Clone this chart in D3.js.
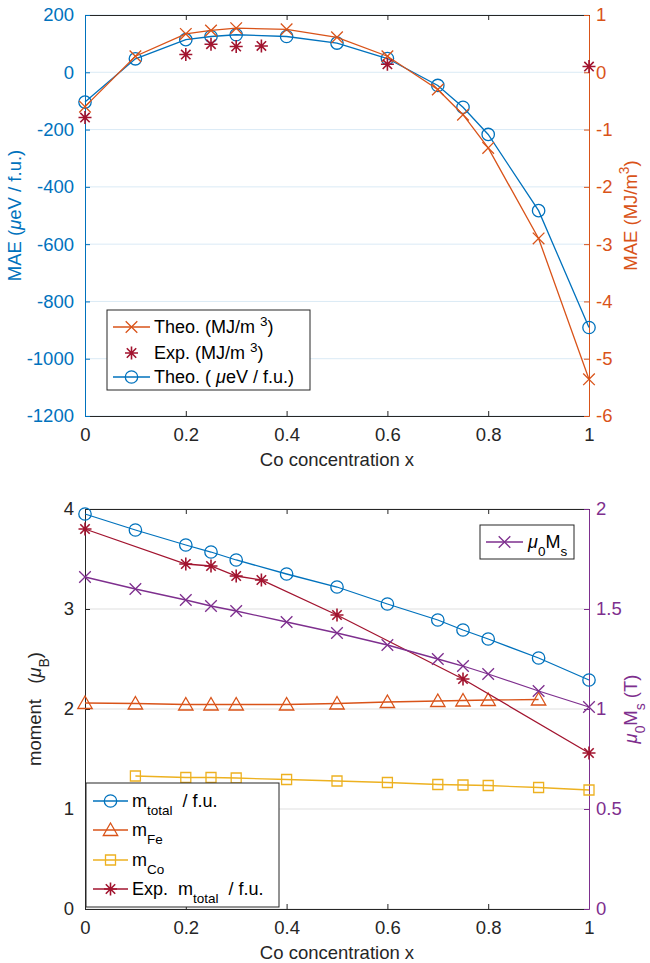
<!DOCTYPE html>
<html>
<head>
<meta charset="utf-8">
<script src="https://cdn.jsdelivr.net/npm/d3@7"></script>
<style>
  body { margin: 0; background: #fff; }
  svg text { font-family: "Liberation Sans", Arial, Helvetica, sans-serif; white-space: pre; }
</style>
</head>
<body>
<svg id="chart" width="650" height="963"></svg>
<script>
// ---- data: top panel (MAE) ----
const xTheo = [0, 0.1, 0.2, 0.25, 0.3, 0.4, 0.5, 0.6, 0.7, 0.75, 0.8, 0.9, 1];
const maeTheoUeV = [-104, 47, 114, 125, 131, 125, 102, 48, -46, -122, -217, -483, -891];
const maeTheoMJ = [-0.60, 0.28, 0.67, 0.73, 0.77, 0.75, 0.61, 0.28, -0.30, -0.74, -1.32, -2.90, -5.36];
const xExpMae = [0, 0.2, 0.25, 0.3, 0.35, 0.6, 1];
const maeExpMJ = [-0.79, 0.31, 0.49, 0.45, 0.46, 0.14, 0.10];

// ---- data: bottom panel (moments) ----
const mTotal = [3.95, 3.79, 3.64, 3.57, 3.49, 3.35, 3.22, 3.05, 2.89, 2.79, 2.70, 2.51, 2.29];
const xFe = [0, 0.1, 0.2, 0.25, 0.3, 0.4, 0.5, 0.6, 0.7, 0.75, 0.8, 0.9];
const mFe = [2.06, 2.055, 2.045, 2.045, 2.045, 2.045, 2.055, 2.07, 2.08, 2.085, 2.09, 2.095];
const xCo = [0.1, 0.2, 0.25, 0.3, 0.4, 0.5, 0.6, 0.7, 0.75, 0.8, 0.9, 1];
const mCo = [1.33, 1.315, 1.315, 1.31, 1.295, 1.28, 1.265, 1.245, 1.24, 1.235, 1.215, 1.19];
const xExpM = [0, 0.2, 0.25, 0.3, 0.35, 0.5, 0.75, 1];
const mExp = [3.80, 3.45, 3.43, 3.33, 3.29, 2.94, 2.30, 1.56];
const mu0Ms = [1.66, 1.60, 1.545, 1.515, 1.49, 1.435, 1.38, 1.32, 1.25, 1.215, 1.175, 1.09, 1.01];

// ---- ticks ----
const xTicks = [0, 0.2, 0.4, 0.6, 0.8, 1];
const maeLeftTicks = [-1200, -1000, -800, -600, -400, -200, 0, 200];
const maeRightTicks = [-6, -5, -4, -3, -2, -1, 0, 1];
const momentTicks = [0, 1, 2, 3, 4];
const msTicks = [0, 0.5, 1, 1.5, 2];

const C = {
  blue: '#0072BD', orange: '#D95319', yellow: '#EDB120',
  purple: '#7E2F8E', red: '#A2142F', dark: '#262626'
};
const FS = 18.5;

const svg = d3.select('#chart');
const plotL = 85, plotR = 589;

function markerPath(type) {
  if (type === 'o') { const r = 6.2; return `M${-r},0a${r},${r} 0 1,0 ${2*r},0a${r},${r} 0 1,0 ${-2*r},0`; }
  if (type === 'x') { const s = 5.8; return `M${-s},${-s}L${s},${s}M${-s},${s}L${s},${-s}`; }
  if (type === '*') { const s = 6.5, d = 4.7; return `M${-s},0L${s},0M0,${-s}L0,${s}M${-d},${-d}L${d},${d}M${-d},${d}L${d},${-d}`; }
  if (type === '^') { return 'M0,-7L7.2,5.5L-7.2,5.5Z'; }
  if (type === 's') { const h = 5; return `M${-h},${-h}H${h}V${h}H${-h}Z`; }
}

function series(g, xs, ys, xScale, yScale, color, marker, withLine) {
  const pts = xs.map((x, i) => [x, ys[i]]);
  if (withLine) {
    g.append('path').datum(pts)
      .attr('d', d3.line().x(d => xScale(d[0])).y(d => yScale(d[1])))
      .attr('fill', 'none').attr('stroke', color).attr('stroke-width', 1.3);
  }
  g.selectAll(null).data(pts).enter().append('path')
    .attr('transform', d => `translate(${xScale(d[0])},${yScale(d[1])})`)
    .attr('d', markerPath(marker))
    .attr('fill', 'none').attr('stroke', color).attr('stroke-width', marker === '*' ? 1.6 : 1.3);
}

// rich text: parts = [[text, kind]], kind in n,i,sub,sup
function rich(text, parts, base) {
  let shift = 0;
  parts.forEach(([t, kind]) => {
    const ts = text.append('tspan').text(t);
    let target = 0;
    if (kind === 'sub') { target = base * 0.42; ts.attr('font-size', base * 0.75); }
    if (kind === 'sup') { target = -base * 0.42; ts.attr('font-size', base * 0.75); }
    if (kind === 'i') ts.attr('font-style', 'italic');
    if (target - shift !== 0) ts.attr('dy', target - shift);
    shift = target;
  });
}

function panel(top, bottom, leftDomain, leftTicks, leftColor, gridColor, rightDomain, rightTicks, rightColor) {
  const g = svg.append('g');
  const x = d3.scaleLinear().domain([0, 1]).range([plotL, plotR]);
  const yL = d3.scaleLinear().domain(leftDomain).range([bottom, top]);
  const yR = d3.scaleLinear().domain(rightDomain).range([bottom, top]);

  // grid
  g.append('g').selectAll('line').data(leftTicks).enter().append('line')
    .attr('x1', plotL).attr('x2', plotR)
    .attr('y1', d => yL(d)).attr('y2', d => yL(d))
    .attr('stroke', gridColor).attr('stroke-width', 1);

  const style = (a, color) => {
    a.attr('color', color).attr('font-size', FS)
      .attr('font-family', '"Liberation Sans", Arial, sans-serif');
    a.selectAll('line, path').attr('stroke-width', 1);
  };

  g.append('g').attr('transform', `translate(0,${bottom})`)
    .call(d3.axisBottom(x).tickValues(xTicks).tickFormat(d => String(d))
      .tickSize(-5).tickSizeOuter(0).tickPadding(12))
    .call(a => style(a, C.dark));
  g.append('g').attr('transform', `translate(0,${top})`)
    .call(d3.axisTop(x).tickValues(xTicks).tickFormat('')
      .tickSize(-5).tickSizeOuter(0))
    .call(a => style(a, C.dark));
  g.append('g').attr('transform', `translate(${plotL},0)`)
    .call(d3.axisLeft(yL).tickValues(leftTicks).tickFormat(d => String(d))
      .tickSize(-5).tickSizeOuter(0).tickPadding(11))
    .call(a => style(a, leftColor));
  g.append('g').attr('transform', `translate(${plotR},0)`)
    .call(d3.axisRight(yR).tickValues(rightTicks).tickFormat(d => String(d))
      .tickSize(-5).tickSizeOuter(0).tickPadding(7))
    .call(a => style(a, rightColor));

  g.append('text').attr('x', (plotL + plotR) / 2).attr('y', bottom + 49.5)
    .attr('text-anchor', 'middle').attr('font-size', FS).attr('fill', C.dark)
    .text('Co concentration x');

  return { g, x, yL, yR, mid: (top + bottom) / 2 };
}

function legendBox(x0, y0, x1, y1) {
  svg.append('rect').attr('x', x0).attr('y', y0).attr('width', x1 - x0).attr('height', y1 - y0)
    .attr('fill', '#fff').attr('stroke', C.dark).attr('stroke-width', 1);
}
function legendItem(lx0, lx1, y, color, marker, withLine, tx, parts, fs) {
  const g = svg.append('g');
  if (withLine) g.append('line').attr('x1', lx0).attr('x2', lx1).attr('y1', y).attr('y2', y)
    .attr('stroke', color).attr('stroke-width', 1.3);
  g.append('path').attr('transform', `translate(${(lx0 + lx1) / 2},${y})`)
    .attr('d', markerPath(marker)).attr('fill', 'none').attr('stroke', color)
    .attr('stroke-width', marker === '*' ? 1.6 : 1.3);
  const t = g.append('text').attr('x', tx).attr('y', y + fs * 0.35).attr('font-size', fs).attr('fill', '#000');
  rich(t, parts, fs);
}

// ===== top panel =====
const p1 = panel(15, 416, [-1200, 200], maeLeftTicks, C.blue, 'rgba(0,114,189,0.15)',
  [-6, 1], maeRightTicks, C.orange);
series(p1.g, xTheo, maeTheoUeV, p1.x, p1.yL, C.blue, 'o', true);
series(p1.g, xTheo, maeTheoMJ, p1.x, p1.yR, C.orange, 'x', true);
series(p1.g, xExpMae, maeExpMJ, p1.x, p1.yR, C.red, '*', false);

let t = svg.append('text').attr('transform', `translate(21,${p1.mid}) rotate(-90)`)
  .attr('text-anchor', 'middle').attr('font-size', FS).attr('fill', C.blue);
rich(t, [['MAE (', 'n'], ['\u03bc', 'i'], ['eV / f.u.)', 'n']], FS);
t = svg.append('text').attr('transform', `translate(637,${p1.mid}) rotate(-90)`)
  .attr('text-anchor', 'middle').attr('font-size', FS).attr('fill', C.orange);
rich(t, [['MAE (MJ/m', 'n'], ['3', 'sup'], [')', 'n']], FS);

legendBox(107, 310, 310, 390);
legendItem(113, 150, 327, C.orange, 'x', true, 154, [['Theo. (MJ/m ', 'n'], ['3', 'sup'], [')', 'n']], 18);
legendItem(113, 150, 353, C.red, '*', false, 154, [['Exp. (MJ/m ', 'n'], ['3', 'sup'], [')', 'n']], 18);
legendItem(113, 150, 377, C.blue, 'o', true, 154, [['Theo. ( ', 'n'], ['\u03bc', 'i'], ['eV / f.u.)', 'n']], 18);

// ===== bottom panel =====
const p2 = panel(509, 909, [0, 4], momentTicks, C.dark, 'rgba(38,38,38,0.15)',
  [0, 2], msTicks, C.purple);
series(p2.g, xTheo, mTotal, p2.x, p2.yL, C.blue, 'o', true);
series(p2.g, xFe, mFe, p2.x, p2.yL, C.orange, '^', true);
series(p2.g, xCo, mCo, p2.x, p2.yL, C.yellow, 's', true);
series(p2.g, xExpM, mExp, p2.x, p2.yL, C.red, '*', true);
series(p2.g, xTheo, mu0Ms, p2.x, p2.yR, C.purple, 'x', true);

t = svg.append('text').attr('transform', `translate(41,${p2.mid}) rotate(-90)`)
  .attr('text-anchor', 'middle').attr('font-size', FS).attr('fill', C.dark);
rich(t, [['moment   (', 'n'], ['\u03bc', 'i'], ['B', 'sub'], [')', 'n']], FS);
t = svg.append('text').attr('transform', `translate(637,${p2.mid}) rotate(-90)`)
  .attr('text-anchor', 'middle').attr('font-size', FS).attr('fill', C.purple);
rich(t, [['\u03bc', 'i'], ['0', 'sub'], ['M', 'n'], ['s', 'sub'], [' (T)', 'n']], FS);

legendBox(86, 783, 279, 907);
legendItem(93, 128, 801, C.blue, 'o', true, 132, [['m', 'n'], ['total', 'sub'], ['  / f.u.', 'n']], 18);
legendItem(93, 128, 830, C.orange, '^', true, 132, [['m', 'n'], ['Fe', 'sub']], 18);
legendItem(93, 128, 860, C.yellow, 's', true, 132, [['m', 'n'], ['Co', 'sub']], 18);
legendItem(93, 128, 889, C.red, '*', true, 132, [['Exp.  m', 'n'], ['total', 'sub'], ['  / f.u.', 'n']], 18);

legendBox(480, 525, 574, 559);
legendItem(486, 523, 542, C.purple, 'x', true, 528, [['\u03bc', 'i'], ['0', 'sub'], ['M', 'n'], ['s', 'sub']], 18);
</script>
</body>
</html>
